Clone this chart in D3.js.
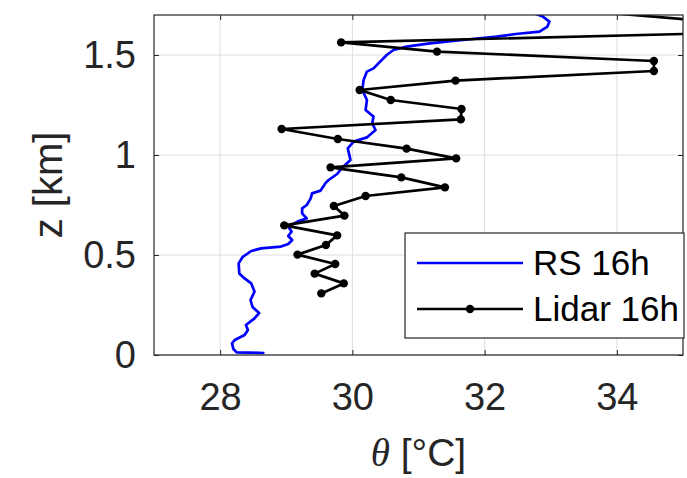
<!DOCTYPE html>
<html>
<head>
<meta charset="utf-8">
<script src="https://cdn.jsdelivr.net/npm/d3@7"></script>
<style>
  body { margin: 0; background: #fff; }
  svg { display: block; font-family: "Liberation Sans", Arial, sans-serif; }
</style>
</head>
<body>
<div class="chart"></div>
<script>
// radiosonde profile (theta in degC, z in km)
var rsZ = [0.010, 0.012, 0.013, 0.030, 0.058, 0.075, 0.100, 0.125, 0.150, 0.183, 0.210, 0.240, 0.275, 0.317,
  0.358, 0.383, 0.408, 0.458, 0.490, 0.520, 0.533, 0.542, 0.555, 0.575, 0.595, 0.617, 0.642, 0.667, 0.683,
  0.708, 0.733, 0.750, 0.783, 0.808, 0.822, 0.858, 0.875, 0.905, 0.938, 0.975, 0.992, 1.033, 1.067, 1.088,
  1.125, 1.158, 1.192, 1.225, 1.275, 1.325, 1.375, 1.417, 1.433, 1.467, 1.500, 1.525, 1.542, 1.558, 1.575,
  1.592, 1.605, 1.617, 1.642, 1.667, 1.692, 1.708];
var rsT = [28.67, 28.45, 28.25, 28.20, 28.18, 28.22, 28.37, 28.42, 28.39, 28.52, 28.59, 28.49, 28.46, 28.52,
  28.47, 28.37, 28.29, 28.28, 28.34, 28.47, 28.62, 28.92, 29.03, 29.09, 29.03, 29.08, 29.03, 29.17, 29.31,
  29.24, 29.24, 29.31, 29.37, 29.39, 29.52, 29.59, 29.64, 29.77, 29.85, 29.97, 29.96, 29.93, 30.02, 30.22,
  30.35, 30.30, 30.32, 30.20, 30.22, 30.15, 30.17, 30.22, 30.32, 30.42, 30.52, 30.62, 30.82, 31.17, 31.67,
  32.18, 32.47, 32.83, 32.95, 32.98, 32.88, 32.75];

// lidar retrieval
var lidarZ = [0.308, 0.358, 0.407, 0.455, 0.502, 0.550, 0.598, 0.648, 0.697, 0.745, 0.795, 0.838, 0.888,
  0.938, 0.983, 1.032, 1.080, 1.130, 1.178, 1.230, 1.275, 1.325, 1.372, 1.420, 1.470, 1.517, 1.563, 1.613,
  1.660, 1.710];
var lidarT = [29.53, 29.87, 29.43, 29.74, 29.17, 29.60, 29.77, 28.97, 29.88, 29.72, 30.20, 31.40, 30.74,
  29.67, 31.57, 30.82, 29.78, 28.93, 31.64, 31.65, 30.58, 30.11, 31.56, 34.56, 34.56, 31.28, 29.83, 36.00,
  35.70, 33.90];

var xTicks = [28, 30, 32, 34];
var yTicks = [0, 0.5, 1, 1.5];
var seriesNames = ['RS 16h', 'Lidar 16h'];

var W = 687, H = 478;
var m = { left: 154, top: 15, right: 4, bottom: 123 };
var w = W - m.left - m.right, h = H - m.top - m.bottom;
var ink = '#262626';
var lw = 2.7;

var svg = d3.select('.chart').append('svg').attr('width', W).attr('height', H);
var g = svg.append('g').attr('transform', 'translate(' + m.left + ',' + m.top + ')');

var x = d3.scaleLinear().domain([27, 35]).range([0, w]);
var y = d3.scaleLinear().domain([0, 1.7]).range([h, 0]);

svg.append('defs').append('clipPath').attr('id', 'clip')
  .append('rect').attr('width', w).attr('height', h);

// grid
g.selectAll('.gx').data(xTicks).enter().append('line')
  .attr('x1', function (d) { return x(d); }).attr('x2', function (d) { return x(d); })
  .attr('y1', 0).attr('y2', h)
  .style('stroke', '#dedede').style('stroke-width', 1);
g.selectAll('.gy').data(yTicks).enter().append('line')
  .attr('y1', function (d) { return y(d); }).attr('y2', function (d) { return y(d); })
  .attr('x1', 0).attr('x2', w)
  .style('stroke', '#dedede').style('stroke-width', 1);

var plot = g.append('g').attr('clip-path', 'url(#clip)');

var rs = rsZ.map(function (z, i) { return { t: rsT[i], z: z }; });
var lidar = lidarZ.map(function (z, i) { return { t: lidarT[i], z: z }; });

var line = d3.line()
  .x(function (d) { return x(d.t); })
  .y(function (d) { return y(d.z); });

plot.append('path').datum(rs).attr('d', line)
  .style('fill', 'none').style('stroke', '#0000ff').style('stroke-width', lw)
  .style('stroke-linejoin', 'round');

plot.append('path').datum(lidar).attr('d', line)
  .style('fill', 'none').style('stroke', '#000').style('stroke-width', lw)
  .style('stroke-linejoin', 'round');

// markers only where the point itself is inside the axes (like matlab)
var inside = lidar.filter(function (d) {
  return d.t >= x.domain()[0] && d.t <= x.domain()[1] && d.z >= y.domain()[0] && d.z <= y.domain()[1];
});
plot.selectAll('circle').data(inside).enter().append('circle')
  .attr('cx', function (d) { return x(d.t); })
  .attr('cy', function (d) { return y(d.z); })
  .attr('r', 4.2)
  .style('fill', '#000');

// axes box with inward ticks on all sides
var tickLen = 5;
var axisStyle = function (sel) {
  sel.select('.domain').remove();
  sel.selectAll('.tick line').style('stroke', ink).style('stroke-width', 1);
};
g.append('g').attr('transform', 'translate(0,' + h + ')')
  .call(d3.axisBottom(x).tickValues(xTicks).tickSize(-tickLen).tickPadding(28).tickFormat(d3.format('d')))
  .call(axisStyle)
  .selectAll('text').style('font-size', '38px').style('fill', ink)
  .style('font-family', '"Liberation Sans", Arial, sans-serif');
g.append('g')
  .call(d3.axisTop(x).tickValues(xTicks).tickSize(-tickLen).tickFormat(''))
  .call(axisStyle);
g.append('g')
  .call(d3.axisLeft(y).tickValues(yTicks).tickSize(-tickLen).tickPadding(18).tickFormat(d3.format('')))
  .call(axisStyle)
  .selectAll('text').style('font-size', '38px').style('fill', ink)
  .style('font-family', '"Liberation Sans", Arial, sans-serif');
g.append('g').attr('transform', 'translate(' + w + ',0)')
  .call(d3.axisRight(y).tickValues(yTicks).tickSize(-tickLen).tickFormat(''))
  .call(axisStyle);

g.append('rect').attr('width', w).attr('height', h)
  .style('fill', 'none').style('stroke', ink).style('stroke-width', 1.2);

// axis labels
var xl = svg.append('text')
  .attr('x', m.left + w / 2).attr('y', 466)
  .attr('text-anchor', 'middle')
  .style('font-size', '39px').style('fill', ink);
xl.append('tspan').text('θ')
  .style('font-family', '"Liberation Serif", "DejaVu Serif", serif').style('font-style', 'italic');
xl.append('tspan').text(' [°C]');

svg.append('text')
  .attr('transform', 'translate(62,' + (m.top + h / 2) + ') rotate(-90)')
  .attr('text-anchor', 'middle')
  .style('font-size', '40px').style('fill', ink)
  .text('z [km]');

// legend
var lg = g.append('g').attr('transform', 'translate(' + (405 - m.left) + ',' + (233 - m.top) + ')');
lg.append('rect').attr('width', 279).attr('height', 105)
  .style('fill', '#fff').style('stroke', ink).style('stroke-width', 1.2);
var rowY = [30, 76];
lg.append('line').attr('x1', 12).attr('x2', 118).attr('y1', rowY[0]).attr('y2', rowY[0])
  .style('stroke', '#0000ff').style('stroke-width', lw);
lg.append('line').attr('x1', 12).attr('x2', 118).attr('y1', rowY[1]).attr('y2', rowY[1])
  .style('stroke', '#000').style('stroke-width', lw);
lg.append('circle').attr('cx', 65).attr('cy', rowY[1]).attr('r', 4.2).style('fill', '#000');
lg.selectAll('.lt').data(seriesNames).enter().append('text')
  .attr('x', 128).attr('y', function (d, i) { return rowY[i]; })
  .attr('dy', '0.35em')
  .style('font-size', '35px').style('fill', '#000')
  .text(function (d) { return d; });
</script>
</body>
</html>
